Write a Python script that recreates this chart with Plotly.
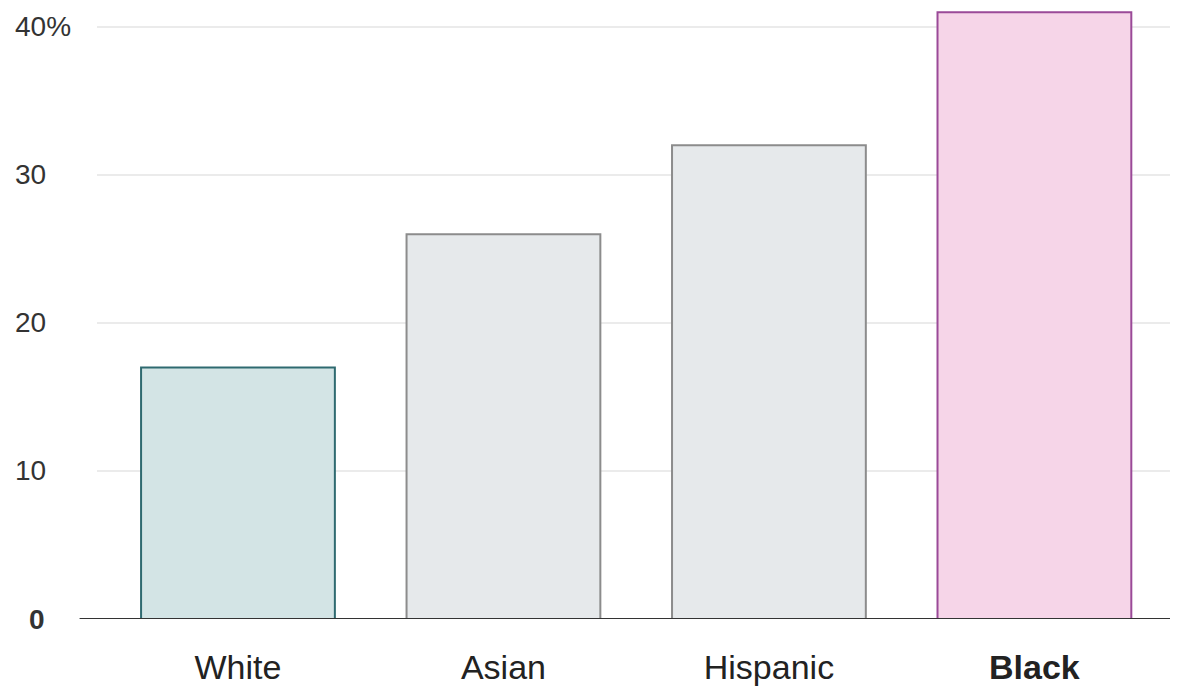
import plotly.graph_objects as go

categories = ["White", "Asian", "Hispanic", "Black"]
values = [17, 26, 32, 41]
tick_vals = [0, 10, 20, 30, 40]
tick_text = ["<b>0</b>", "10", "20", "30", "40%"]

fills = ["#d3e4e5", "#e6e9eb", "#e6e9eb", "#f6d5e8"]
borders = ["#2f6a70", "#8c8c8c", "#8c8c8c", "#9a4a98"]
cat_text = ["White", "Asian", "Hispanic", "<b>Black</b>"]

FONT = "Liberation Sans"

fig = go.Figure()
fig.add_trace(go.Bar(
    x=categories, y=values, width=0.73,
    marker=dict(color=fills, line=dict(color=borders, width=2)),
    hoverinfo="skip",
))

for v, t in zip(tick_vals, tick_text):
    fig.add_annotation(
        x=0, y=v, xref="paper", yref="y", text=t, showarrow=False,
        xanchor="left", yanchor="middle",
        xshift=(-70 if v == 0 else -84),
        font=dict(family=FONT, size=28, color="#333333"),
    )

# baseline
fig.add_shape(type="line", xref="paper", yref="y", x0=-0.016, x1=1, y0=0, y1=0,
              line=dict(color="#333333", width=2))

fig.update_layout(
    width=1178, height=679,
    margin=dict(l=89, r=0, t=0, b=68),
    plot_bgcolor="white", paper_bgcolor="white",
    showlegend=False,
    xaxis=dict(
        type="category", range=[-0.531, 3.571],
        tickmode="array", tickvals=categories, ticktext=cat_text,
        tickfont=dict(family=FONT, size=34, color="#222222"),
        showgrid=False, zeroline=False, showline=False, ticks="",
        ticklabelstandoff=25,
    ),
    yaxis=dict(
        range=[0, 41.28], tickvals=tick_vals, showticklabels=False,
        showgrid=True, gridcolor="#ebebeb", gridwidth=2,
        zeroline=False, showline=False, ticks="",
    ),
)

fig.write_html("out.html")
